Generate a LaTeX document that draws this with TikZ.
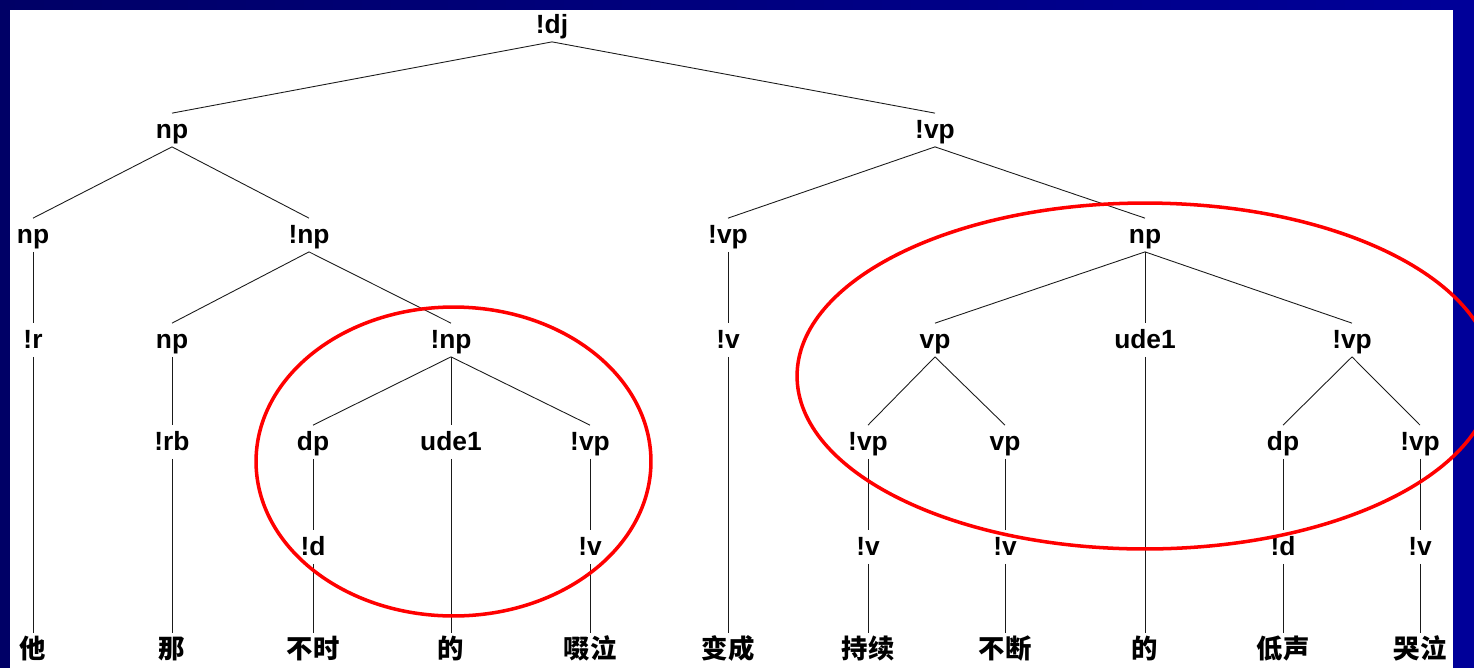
\documentclass[tikz,border=0pt]{standalone}
\usepackage{fontspec}
\setmainfont{Liberation Sans}
\newfontfamily\cjk{Noto Sans CJK SC}
\usetikzlibrary{positioning}
\definecolor{tnavyl}{HTML}{000066}
\definecolor{tnavyr}{HTML}{000099}
\definecolor{tred}{HTML}{FF0000}
\definecolor{tline}{HTML}{1A1A1A}

\begin{document}
\begin{tikzpicture}[x=0.02cm,y=-0.02cm,
  tag/.style={font=\fontsize{15}{16}\selectfont\bfseries,inner xsep=0pt,inner ysep=1.4pt,
    text height=13pt,text depth=3pt},
  word/.style={font=\cjk\fontsize{15}{16}\selectfont\bfseries,inner xsep=0pt,inner ysep=1.4pt,
    text height=13pt,text depth=3pt},
  edge/.style={draw=tline,line width=0.5pt},
  ring/.style={draw=tred,line width=2pt}]
  \useasboundingbox (0,0) rectangle (1474,667);
  % frame
  \shade[left color=tnavyl,right color=tnavyr] (0,0) rectangle (1474,667);
  \fill[white] (10,10) rectangle (1453,672);
  % tree levels
  \node[tag] (dj) at (552,25) {!dj};
  \node[tag] (npA) at (172,130) {np};
  \node[tag] (vpA) at (935,130) {!vp};
  \node[tag] (npB) at (33,235) {np};
  \node[tag] (npC) at (309,235) {!np};
  \node[tag] (vpB) at (728,235) {!vp};
  \node[tag] (npD) at (1145,235) {np};
  \node[tag] (r) at (33,340) {!r};
  \node[tag] (npE) at (172,340) {np};
  \node[tag] (npF) at (451,340) {!np};
  \node[tag] (vC) at (728,340) {!v};
  \node[tag] (vpC) at (935,340) {vp};
  \node[tag] (udeA) at (1145,340) {ude1};
  \node[tag] (vpD) at (1352,340) {!vp};
  \node[tag] (rb) at (172,442) {!rb};
  \node[tag] (dpA) at (313,442) {dp};
  \node[tag] (udeB) at (451,442) {ude1};
  \node[tag] (vpE) at (590,442) {!vp};
  \node[tag] (vpF) at (868,442) {!vp};
  \node[tag] (vpG) at (1005,442) {vp};
  \node[tag] (dpB) at (1283,442) {dp};
  \node[tag] (vpH) at (1420,442) {!vp};
  \node[tag] (dA) at (313,547) {!d};
  \node[tag] (vD) at (590,547) {!v};
  \node[tag] (vE) at (868,547) {!v};
  \node[tag] (vF) at (1005,547) {!v};
  \node[tag] (dB) at (1283,547) {!d};
  \node[tag] (vG) at (1420,547) {!v};
  % words
  \node[word] (w1) at (33,650) {他};
  \node[word] (w2) at (172,650) {那};
  \node[word] (w3) at (313,650) {不时};
  \node[word] (w4) at (451,650) {的};
  \node[word] (w5) at (590,650) {啜泣};
  \node[word] (w6) at (728,650) {变成};
  \node[word] (w7) at (868,650) {持续};
  \node[word] (w8) at (1005,650) {不断};
  \node[word] (w9) at (1145,650) {的};
  \node[word] (w10) at (1283,650) {低声};
  \node[word] (w11) at (1420,650) {哭泣};
  % branches
  \foreach \a/\b in {dj/npA,dj/vpA,npA/npB,npA/npC,npB/r,r/w1,
      npC/npE,npC/npF,npE/rb,rb/w2,npF/dpA,npF/udeB,npF/vpE,
      dpA/dA,dA/w3,udeB/w4,vpE/vD,vD/w5,vpA/vpB,vpA/npD,vpB/vC,vC/w6,
      npD/vpC,npD/udeA,npD/vpD,vpC/vpF,vpC/vpG,vpF/vE,vE/w7,
      vpG/vF,vF/w8,udeA/w9,vpD/dpB,vpD/vpH,dpB/dB,dB/w10,vpH/vG,vG/w11}
    \draw[edge] (\a.south) -- (\b.north);
  % highlighted phrases
  \draw[ring] (453.5,461.5) ellipse [x radius=3.95cm,y radius=3.09cm];
  \draw[ring] (1145,376) ellipse [x radius=6.96cm,y radius=3.46cm];
\end{tikzpicture}
\end{document}
